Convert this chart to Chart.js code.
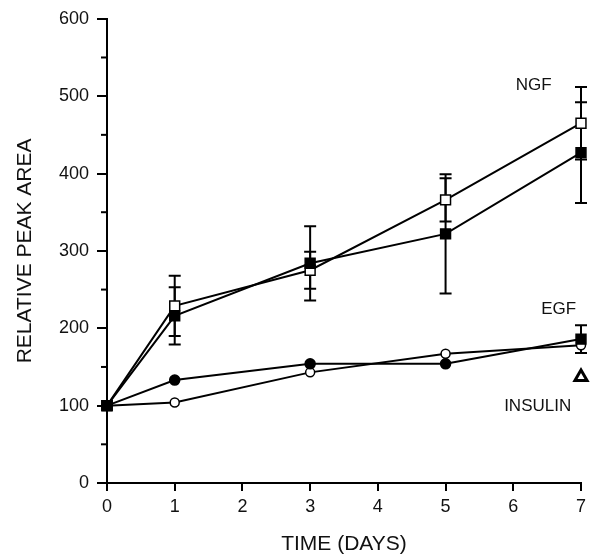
<!DOCTYPE html>
<html>
<head>
<meta charset="utf-8">
<script src="https://cdn.jsdelivr.net/npm/chart.js@4.4.1/dist/chart.umd.min.js"></script>
<style>
  body { margin: 0; background: #fff; }
  #wrap { width: 597px; height: 559px; }
</style>
</head>
<body>
<div id="wrap"><canvas id="chart" width="597" height="559"></canvas></div>
<script>
// values
const days = [0, 1, 3, 5, 7];
const ngfOpen = [100, 229, 275, 366, 465];
const ngfOpenErr = [0, 39, 24, 28, 47];
const ngfFilled = [100, 216, 284, 322, 427];
const ngfFilledErr = [0, 37, 48, 77, 65];
const circFilled = [100, 133, 154, 154, 186];
const circFilledErr = [0, 0, 0, 0, 18];
const circOpen = [100, 104, 143, 167, 178];
const insulinDay = [7];
const insulinVal = [137];
const yTicks = [0, 100, 200, 300, 400, 500, 600];
const xTicks = [0, 1, 2, 3, 4, 5, 6, 7];
const notes = [
  { text: "NGF", x: 6.3, y: 514 },
  { text: "EGF", x: 6.67, y: 225 },
  { text: "INSULIN", x: 6.36, y: 99 }
];

const FONT = "'Liberation Sans', Arial, sans-serif";
const pts = (xs, ys) => xs.map((x, i) => ({ x, y: ys[i] }));

const errSets = [
  { vals: ngfOpen, err: ngfOpenErr },
  { vals: ngfFilled, err: ngfFilledErr },
  { vals: circFilled, err: circFilledErr }
];

const extras = {
  id: "extras",
  beforeDatasetsDraw(chart) {
    const { ctx, scales: { x, y } } = chart;
    ctx.save();
    ctx.strokeStyle = "#000";
    ctx.lineWidth = 2;
    errSets.forEach(s => {
      s.vals.forEach((v, i) => {
        if (!s.err[i]) return;
        const px = x.getPixelForValue(days[i]);
        const top = y.getPixelForValue(v + s.err[i]);
        const bot = y.getPixelForValue(v - s.err[i]);
        ctx.beginPath();
        ctx.moveTo(px, top); ctx.lineTo(px, bot);
        ctx.moveTo(px - 6, top); ctx.lineTo(px + 6, top);
        ctx.moveTo(px - 6, bot); ctx.lineTo(px + 6, bot);
        ctx.stroke();
      });
    });
    // minor ticks on the y axis
    for (let v = 50; v < 600; v += 100) {
      const py = y.getPixelForValue(v);
      ctx.beginPath();
      ctx.moveTo(x.left - 6, py); ctx.lineTo(x.left, py);
      ctx.stroke();
    }
    ctx.restore();
  },
  afterDraw(chart) {
    const { ctx, scales: { x, y } } = chart;
    ctx.save();
    ctx.fillStyle = "#111";
    ctx.font = "17px " + FONT;
    ctx.textAlign = "center";
    ctx.textBaseline = "middle";
    notes.forEach(n => ctx.fillText(n.text, x.getPixelForValue(n.x), y.getPixelForValue(n.y)));
    ctx.restore();
  }
};

const lineDs = (data, style, fill, radius) => ({
  data,
  clip: false,
  borderColor: "#000",
  borderWidth: 2,
  pointStyle: style,
  pointRadius: radius,
  pointBackgroundColor: fill,
  pointBorderColor: "#000",
  pointBorderWidth: 1.5,
  showLine: true,
  tension: 0
});

// first dataset ends up on top
new Chart(document.getElementById("chart"), {
  type: "scatter",
  data: {
    datasets: [
      lineDs(pts(days, ngfFilled), "rect", "#000", 7),
      lineDs(pts(days, circFilled), ["rect", "circle", "circle", "circle", "rect"], "#000", [7, 5, 5, 5, 7]),
      lineDs(pts(days, ngfOpen), "rect", "#fff", 7),
      lineDs(pts(days, circOpen), "circle", "#fff", 4.5),
      {
        data: pts(insulinDay, insulinVal),
        clip: false,
        showLine: false,
        pointStyle: "triangle",
        pointRadius: 7,
        pointBackgroundColor: "#fff",
        pointBorderColor: "#000",
        pointBorderWidth: 3
      }
    ]
  },
  options: {
    responsive: false,
    animation: false,
    layout: { padding: { top: 17, right: 16, left: 0, bottom: 0 } },
    plugins: { legend: { display: false }, tooltip: { enabled: false } },
    scales: {
      x: {
        type: "linear",
        min: 0, max: 7,
        afterBuildTicks: s => { s.ticks = xTicks.map(v => ({ value: v })); },
        afterFit: s => { s.height = 76; },
        border: { color: "#000", width: 2 },
        grid: { drawOnChartArea: false, tickLength: 8, color: "#000", lineWidth: 2 },
        ticks: { color: "#111", font: { family: FONT, size: 18 }, padding: 5 },
        title: { display: true, text: "TIME (DAYS)", color: "#111", font: { family: FONT, size: 21 }, padding: { top: 4, bottom: 2 } }
      },
      y: {
        min: 0, max: 600,
        afterBuildTicks: s => { s.ticks = yTicks.map(v => ({ value: v })); },
        afterFit: s => { s.width = 107; },
        border: { color: "#000", width: 2 },
        grid: { drawOnChartArea: false, tickLength: 10, color: "#000", lineWidth: 2 },
        ticks: { color: "#111", font: { family: FONT, size: 18 }, padding: 8 },
        title: { display: true, text: "RELATIVE PEAK AREA", color: "#111", font: { family: FONT, size: 21 }, padding: { top: 13, bottom: 4 } }
      }
    }
  },
  plugins: [extras]
});
</script>
</body>
</html>
